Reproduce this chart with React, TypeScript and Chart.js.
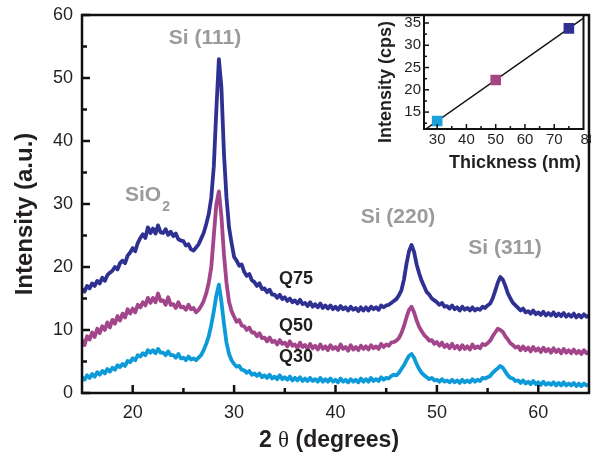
import React, { useEffect, useRef } from "react";
import { Chart, registerables } from "chart.js";
Chart.register(...registerables);

const FONT = "'Liberation Sans', Arial, Helvetica, sans-serif";

// 2θ angles (degrees)
const angles = [
  15, 15.25, 15.5, 15.75, 16, 16.25, 16.5, 16.75, 17, 17.25, 17.5, 17.75, 18, 18.25, 18.5, 18.75,
  19, 19.25, 19.5, 19.75, 20, 20.25, 20.5, 20.75, 21, 21.25, 21.5, 21.75, 22, 22.25, 22.5, 22.75,
  23, 23.25, 23.5, 23.75, 24, 24.25, 24.5, 24.75, 25, 25.25, 25.5, 25.75, 26, 26.25, 26.5, 26.75,
  27, 27.25, 27.5, 27.75, 28, 28.25, 28.5, 28.75, 29, 29.25, 29.5, 29.75, 30, 30.25, 30.5, 30.75,
  31, 31.25, 31.5, 31.75, 32, 32.25, 32.5, 32.75, 33, 33.25, 33.5, 33.75, 34, 34.25, 34.5, 34.75,
  35, 35.25, 35.5, 35.75, 36, 36.25, 36.5, 36.75, 37, 37.25, 37.5, 37.75, 38, 38.25, 38.5, 38.75,
  39, 39.25, 39.5, 39.75, 40, 40.25, 40.5, 40.75, 41, 41.25, 41.5, 41.75, 42, 42.25, 42.5, 42.75,
  43, 43.25, 43.5, 43.75, 44, 44.25, 44.5, 44.75, 45, 45.25, 45.5, 45.75, 46, 46.25, 46.5, 46.75,
  47, 47.25, 47.5, 47.75, 48, 48.25, 48.5, 48.75, 49, 49.25, 49.5, 49.75, 50, 50.25, 50.5, 50.75,
  51, 51.25, 51.5, 51.75, 52, 52.25, 52.5, 52.75, 53, 53.25, 53.5, 53.75, 54, 54.25, 54.5, 54.75,
  55, 55.25, 55.5, 55.75, 56, 56.25, 56.5, 56.75, 57, 57.25, 57.5, 57.75, 58, 58.25, 58.5, 58.75,
  59, 59.25, 59.5, 59.75, 60, 60.25, 60.5, 60.75, 61, 61.25, 61.5, 61.75, 62, 62.25, 62.5, 62.75,
  63, 63.25, 63.5, 63.75, 64, 64.25, 64.5, 64.75, 65,
];

const q75 = [
  16.5, 16.1, 17.0, 16.6, 17.4, 17.0, 17.8, 17.4, 18.3, 17.8, 18.7, 19.1, 19.4, 20.0, 19.6, 20.6,
  21.0, 20.6, 21.8, 22.3, 23.0, 22.5, 23.8, 24.6, 25.2, 24.6, 26.3, 25.4, 26.1, 25.3, 26.6, 25.5,
  25.4, 26.0, 25.1, 25.6, 24.9, 25.3, 24.4, 24.2, 24.1, 23.4, 23.6, 22.8, 22.6, 23.1, 23.6, 24.5,
  25.4, 26.8, 28.4, 31.0, 36.0, 45.0, 53.0, 48.5, 38.0, 31.0, 26.3, 23.8, 21.6, 21.0, 20.2, 20.4,
  19.2, 18.6, 18.9, 17.9, 17.6, 17.0, 17.4, 16.5, 16.6, 16.0, 16.4, 15.6, 15.6, 15.1, 15.6, 14.9,
  15.2, 14.6, 15.0, 14.4, 14.7, 14.2, 14.8, 14.1, 14.3, 13.8, 14.4, 13.7, 14.1, 13.6, 14.2, 13.5,
  13.9, 13.4, 13.9, 13.3, 13.7, 13.2, 13.8, 13.3, 13.6, 13.1, 13.7, 13.2, 13.5, 13.0, 13.6, 13.1,
  13.6, 13.1, 13.7, 13.3, 13.6, 13.2, 13.9, 13.6, 13.9, 14.0, 14.3, 14.6, 14.9, 15.5, 16.3, 18.0,
  20.5, 22.5, 23.5, 22.4, 20.4, 19.0, 17.8, 16.9, 16.0, 15.6, 15.0, 14.7, 14.4, 14.0, 14.3, 13.7,
  13.8, 13.4, 13.9, 13.3, 13.6, 13.1, 13.7, 13.2, 13.5, 13.1, 13.6, 13.1, 13.4, 13.2, 13.7, 13.5,
  13.9, 14.2, 15.0, 16.2, 17.5, 18.4, 18.0, 17.0, 15.8, 15.0, 14.3, 13.9, 13.5, 13.1, 13.4, 12.8,
  13.0, 12.6, 13.1, 12.5, 12.8, 12.4, 12.9, 12.3, 12.7, 12.3, 12.8, 12.2, 12.6, 12.2, 12.7, 12.1,
  12.5, 12.1, 12.6, 12.0, 12.4, 12.0, 12.5, 12.1, 12.3,
];

const q50 = [
  8.4, 7.6, 9.0, 8.5, 9.6, 8.9, 10.2, 9.5, 10.6, 10.0, 11.2, 10.4, 11.6, 11.0, 12.2, 11.5,
  12.6, 12.0, 13.3, 12.6, 13.4, 12.8, 14.0, 13.6, 14.4, 13.9, 15.1, 14.3, 15.1, 14.4, 15.8, 14.6,
  14.7, 14.0, 15.2, 14.0, 14.1, 13.5, 14.4, 13.6, 13.7, 13.2, 14.0, 13.3, 13.5, 12.8, 13.2, 13.8,
  14.6, 15.8, 17.5, 20.0, 25.0, 30.0, 32.0, 28.0, 22.0, 17.5, 14.5, 13.0, 12.1, 11.3, 11.6, 10.7,
  10.6, 10.0, 10.4, 9.6, 9.6, 9.0, 9.5, 8.7, 8.8, 8.2, 8.8, 8.1, 8.3, 7.7, 8.4, 7.8,
  8.0, 7.4, 8.2, 7.5, 7.7, 7.1, 8.0, 7.3, 7.6, 7.0, 7.8, 7.1, 7.5, 6.9, 7.7, 7.0,
  7.4, 6.8, 7.6, 7.0, 7.3, 6.8, 7.7, 7.0, 7.3, 6.7, 7.6, 6.9, 7.3, 6.8, 7.5, 7.0,
  7.4, 6.9, 7.6, 7.1, 7.4, 7.0, 7.8, 7.3, 7.7, 7.5, 8.0, 8.1, 8.3, 8.7, 9.5, 10.6,
  12.0, 13.2, 13.7, 12.8, 11.5, 10.5, 9.8, 9.2, 8.8, 8.3, 8.4, 7.8, 8.1, 7.5, 8.0, 7.3,
  7.7, 7.1, 7.8, 7.1, 7.5, 6.9, 7.6, 7.0, 7.4, 6.9, 7.7, 7.1, 7.4, 7.1, 7.8, 7.6,
  7.9, 8.3, 9.0, 9.6, 10.2, 10.0, 9.7, 9.0, 8.5, 7.9, 7.6, 7.2, 7.4, 6.8, 7.4, 6.8,
  7.2, 6.6, 7.3, 6.7, 7.1, 6.5, 7.2, 6.6, 7.0, 6.4, 7.1, 6.5, 6.9, 6.3, 7.0, 6.4,
  6.8, 6.3, 6.9, 6.3, 6.7, 6.2, 6.8, 6.3, 6.5,
];

const q30 = [
  2.5, 2.1, 2.8, 2.4, 3.0, 2.6, 3.3, 2.9, 3.5, 3.1, 3.8, 3.4, 4.0, 3.7, 4.4, 4.1,
  4.6, 4.3, 5.1, 4.9, 5.5, 5.2, 6.0, 5.8, 6.3, 6.0, 6.8, 6.4, 6.8, 6.3, 7.0, 6.4,
  6.4, 6.0, 6.6, 6.0, 6.0, 5.6, 6.2, 5.5, 5.6, 5.2, 5.8, 5.3, 5.5, 5.2, 5.6, 6.0,
  6.8, 7.8, 9.0, 10.8, 13.0, 15.5, 17.2, 14.5, 11.0, 8.0, 6.2, 5.2, 4.6, 4.2, 4.3, 3.7,
  3.6, 3.2, 3.5, 2.9, 3.1, 2.7, 3.1, 2.5, 2.8, 2.4, 2.9, 2.3, 2.6, 2.2, 2.8, 2.2,
  2.5, 2.1, 2.6, 2.0, 2.4, 2.0, 2.5, 1.9, 2.3, 1.9, 2.4, 1.9, 2.2, 1.8, 2.4, 1.8,
  2.2, 1.8, 2.3, 1.8, 2.1, 1.7, 2.3, 1.8, 2.1, 1.7, 2.2, 1.8, 2.1, 1.7, 2.3, 1.8,
  2.2, 1.8, 2.4, 1.9, 2.2, 1.9, 2.5, 2.1, 2.4, 2.3, 2.7, 2.9, 2.8, 3.2, 3.8, 4.4,
  5.2, 5.9, 6.2, 5.6, 4.6, 3.8, 3.2, 2.8, 2.5, 2.2, 2.4, 2.0, 2.1, 1.8, 2.2, 1.8,
  2.0, 1.7, 2.1, 1.7, 2.0, 1.6, 2.1, 1.7, 2.0, 1.7, 2.2, 1.8, 2.1, 1.9, 2.4, 2.3,
  2.5, 2.7, 3.2, 3.6, 3.9, 4.3, 4.0, 3.4, 2.8, 2.4, 2.3, 1.9, 2.0, 1.6, 2.0, 1.5,
  1.8, 1.4, 1.9, 1.4, 1.7, 1.3, 1.8, 1.3, 1.6, 1.3, 1.7, 1.2, 1.6, 1.2, 1.7, 1.2,
  1.5, 1.2, 1.6, 1.1, 1.5, 1.1, 1.5, 1.2, 1.3,
];

const seriesNames = ["Q30", "Q50", "Q75"];
const seriesColors = ["#0c9ad8", "#a3458a", "#2e3192"];

// main axis ticks
const xLabelTicks = [20, 30, 40, 50, 60];
const xMinorTicks = [25, 35, 45, 55];
const yLabelTicks = [0, 10, 20, 30, 40, 50, 60];
const yMinorTicks = [5, 15, 25, 35, 45, 55];

// inset data
const thickness = [30, 50, 75];
const insetIntensity = [13.0, 22.2, 33.8];
const insetColors = ["#1ba1dc", "#a64584", "#2e3192"];
const fitThickness = [25.5, 80];
const fitIntensity = [10.9, 36.1];
const insetXLabelTicks = [30, 40, 50, 60, 70];
const insetXEdgeLabel = "80";
const insetXMajorTicks = [30, 40, 50, 60, 70];
const insetXMinorTicks = [35, 45, 55, 65, 75];
const insetYLabelTicks = [15, 20, 25, 30, 35];
const insetYMinorTicks = [12.5, 17.5, 22.5, 27.5, 32.5];

const seriesValues = [q30, q50, q75];

function fixedTicks(values: number[]) {
  return (scale: any) => {
    scale.ticks = values.map((v) => ({ value: v }));
  };
}

const mainDecor = {
  id: "mainDecor",
  afterDraw(chart: any) {
    const { ctx, chartArea: a, scales } = chart;
    const x = scales.x;
    const y = scales.y;
    ctx.save();
    ctx.strokeStyle = "#111";
    ctx.lineWidth = 2.5;
    const seg = (x1: number, y1: number, x2: number, y2: number) => {
      ctx.beginPath();
      ctx.moveTo(x1, y1);
      ctx.lineTo(x2, y2);
      ctx.stroke();
    };
    xLabelTicks.forEach((v) => { const p = x.getPixelForValue(v); seg(p, a.bottom, p, a.bottom - 8); });
    xMinorTicks.forEach((v) => { const p = x.getPixelForValue(v); seg(p, a.bottom, p, a.bottom - 5); });
    yLabelTicks.forEach((v) => { const p = y.getPixelForValue(v); seg(a.left, p, a.left + 8, p); });
    yMinorTicks.forEach((v) => { const p = y.getPixelForValue(v); seg(a.left, p, a.left + 5, p); });
    ctx.strokeRect(a.left, a.top, a.right - a.left, a.bottom - a.top);

    // axis titles
    ctx.fillStyle = "#231f20";
    ctx.textBaseline = "middle";
    ctx.textAlign = "center";
    ctx.save();
    ctx.translate(25, 214);
    ctx.rotate(-Math.PI / 2);
    ctx.font = `bold 24px ${FONT}`;
    ctx.fillText("Intensity (a.u.)", 0, 0);
    ctx.restore();

    ctx.textBaseline = "alphabetic";
    ctx.textAlign = "left";
    const p1 = "2 ";
    const p2 = "θ";
    const p3 = " (degrees)";
    const fB = `bold 23px ${FONT}`;
    const fS = `23px 'Liberation Serif', 'DejaVu Serif', serif`;
    ctx.font = fB;
    const w1 = ctx.measureText(p1).width;
    const w3 = ctx.measureText(p3).width;
    ctx.font = fS;
    const w2 = ctx.measureText(p2).width;
    const sx = 329 - (w1 + w2 + w3) / 2;
    ctx.font = fB;
    ctx.fillText(p1, sx, 447);
    ctx.font = fS;
    ctx.fillText(p2, sx + w1, 447);
    ctx.font = fB;
    ctx.fillText(p3, sx + w1 + w2, 447);

    // peak annotations
    ctx.fillStyle = "#9b9b9b";
    ctx.font = `bold 21px ${FONT}`;
    ctx.textBaseline = "middle";
    ctx.textAlign = "center";
    ctx.fillText("Si (111)", 205, 38);
    ctx.fillText("Si (220)", 398, 217);
    ctx.fillText("Si (311)", 505, 248);
    ctx.textAlign = "left";
    ctx.fillText("SiO", 125, 195);
    const wSiO = ctx.measureText("SiO").width;
    ctx.font = `bold 14px ${FONT}`;
    ctx.fillText("2", 125 + wSiO + 1, 207);

    // series labels
    ctx.fillStyle = "#231f20";
    ctx.font = `bold 18px ${FONT}`;
    ctx.textAlign = "center";
    ctx.fillText("Q75", 296, 279);
    ctx.fillText("Q50", 296, 326);
    ctx.fillText("Q30", 296, 357);
    ctx.restore();
  },
};

const insetDecor = {
  id: "insetDecor",
  afterDraw(chart: any) {
    const { ctx, chartArea: a, scales } = chart;
    const x = scales.x;
    const y = scales.y;
    ctx.save();
    ctx.strokeStyle = "#111";
    const seg = (x1: number, y1: number, x2: number, y2: number) => {
      ctx.beginPath();
      ctx.moveTo(x1, y1);
      ctx.lineTo(x2, y2);
      ctx.stroke();
    };
    ctx.lineWidth = 1.5;
    insetXMajorTicks.forEach((v) => { const p = x.getPixelForValue(v); seg(p, a.bottom, p, a.bottom - 5); });
    insetXMinorTicks.forEach((v) => { const p = x.getPixelForValue(v); seg(p, a.bottom, p, a.bottom - 3); });
    insetYLabelTicks.forEach((v) => { const p = y.getPixelForValue(v); seg(a.left, p, a.left + 5, p); });
    insetYMinorTicks.forEach((v) => { const p = y.getPixelForValue(v); seg(a.left, p, a.left + 3, p); });
    ctx.lineWidth = 2;
    ctx.strokeRect(a.left, a.top, a.right - a.left, a.bottom - a.top);

    // edge tick label, cut by the picture border as in the original
    ctx.fillStyle = "#231f20";
    ctx.font = `15px ${FONT}`;
    ctx.textAlign = "left";
    ctx.textBaseline = "middle";
    ctx.fillText(insetXEdgeLabel, x.getPixelForValue(80) - 3, a.bottom + 11);

    ctx.font = `bold 18px ${FONT}`;
    ctx.textAlign = "center";
    ctx.save();
    ctx.translate(26, 82);
    ctx.rotate(-Math.PI / 2);
    ctx.fillText("Intensity (cps)", 0, 0);
    ctx.restore();
    ctx.textBaseline = "alphabetic";
    ctx.fillText("Thickness (nm)", 155, 168);
    ctx.restore();
  },
};

function zeroPad(scale: any) {
  scale.paddingLeft = 0;
  scale.paddingRight = 0;
  scale.paddingTop = 0;
  scale.paddingBottom = 0;
}

export default function App() {
  const mainRef = useRef<HTMLCanvasElement>(null);
  const insetRef = useRef<HTMLCanvasElement>(null);

  useEffect(() => {
    const tickFont = { family: FONT, size: 18 };
    const main = new Chart(mainRef.current as HTMLCanvasElement, {
      type: "line",
      data: {
        datasets: seriesNames.map((name, i) => ({
          label: name,
          data: angles.map((a, j) => ({ x: a, y: seriesValues[i][j] })),
          borderColor: seriesColors[i],
          backgroundColor: seriesColors[i],
          borderWidth: 3.8,
          borderJoinStyle: "round",
          borderCapStyle: "round",
          pointRadius: 0,
          tension: 0,
          fill: false,
        })),
      },
      options: {
        responsive: false,
        animation: false,
        devicePixelRatio: 1,
        layout: { padding: { left: 0, top: 15, right: 2, bottom: 0 } },
        plugins: { legend: { display: false }, tooltip: { enabled: false } },
        scales: {
          x: {
            type: "linear",
            min: 15,
            max: 65,
            grid: { display: false, drawTicks: false },
            border: { display: false },
            afterBuildTicks: fixedTicks(xLabelTicks),
            ticks: { padding: 9, color: "#231f20", font: tickFont, maxRotation: 0, autoSkip: false },
            afterFit: (s: any) => { s.height = 62; zeroPad(s); },
          },
          y: {
            type: "linear",
            min: 0,
            max: 60,
            grid: { display: false, drawTicks: false },
            border: { display: false },
            afterBuildTicks: fixedTicks(yLabelTicks),
            ticks: { padding: 9, color: "#231f20", font: tickFont, autoSkip: false },
            afterFit: (s: any) => { s.width = 82; zeroPad(s); },
          },
        },
      } as any,
      plugins: [mainDecor],
    });

    const insetFont = { family: FONT, size: 15 };
    const inset = new Chart(insetRef.current as HTMLCanvasElement, {
      type: "scatter",
      data: {
        datasets: [
          {
            label: "samples",
            data: thickness.map((t, i) => ({ x: t, y: insetIntensity[i] })),
            pointStyle: "rect",
            pointRadius: 7.5,
            pointBackgroundColor: insetColors,
            pointBorderColor: insetColors,
            pointBorderWidth: 0,
            showLine: false,
          },
          {
            label: "fit",
            data: fitThickness.map((t, i) => ({ x: t, y: fitIntensity[i] })),
            borderColor: "#111",
            borderWidth: 1.4,
            pointRadius: 0,
            showLine: true,
          },
        ],
      },
      options: {
        responsive: false,
        animation: false,
        devicePixelRatio: 1,
        layout: { padding: { left: 0, top: 15, right: 2, bottom: 0 } },
        plugins: { legend: { display: false }, tooltip: { enabled: false } },
        scales: {
          x: {
            type: "linear",
            min: 25.5,
            max: 80,
            grid: { display: false, drawTicks: false },
            border: { display: false },
            afterBuildTicks: fixedTicks(insetXLabelTicks),
            ticks: { padding: 2, color: "#231f20", font: insetFont, maxRotation: 0, autoSkip: false },
            afterFit: (s: any) => { s.height = 46; zeroPad(s); },
          },
          y: {
            type: "linear",
            min: 11.2,
            max: 36.8,
            grid: { display: false, drawTicks: false },
            border: { display: false },
            afterBuildTicks: fixedTicks(insetYLabelTicks),
            ticks: { padding: 3, color: "#231f20", font: insetFont, autoSkip: false },
            afterFit: (s: any) => { s.width = 64; zeroPad(s); },
          },
        },
      } as any,
      plugins: [insetDecor],
    });

    return () => {
      main.destroy();
      inset.destroy();
    };
  }, []);

  return (
    <div style={{ position: "absolute", left: 0, top: 0, width: 591, height: 455, background: "#fff" }}>
      <canvas ref={mainRef} width={591} height={455} style={{ position: "absolute", left: 0, top: 0, display: "block" }} />
      <canvas ref={insetRef} width={231} height={175} style={{ position: "absolute", left: 360, top: 0, display: "block" }} />
    </div>
  );
}
